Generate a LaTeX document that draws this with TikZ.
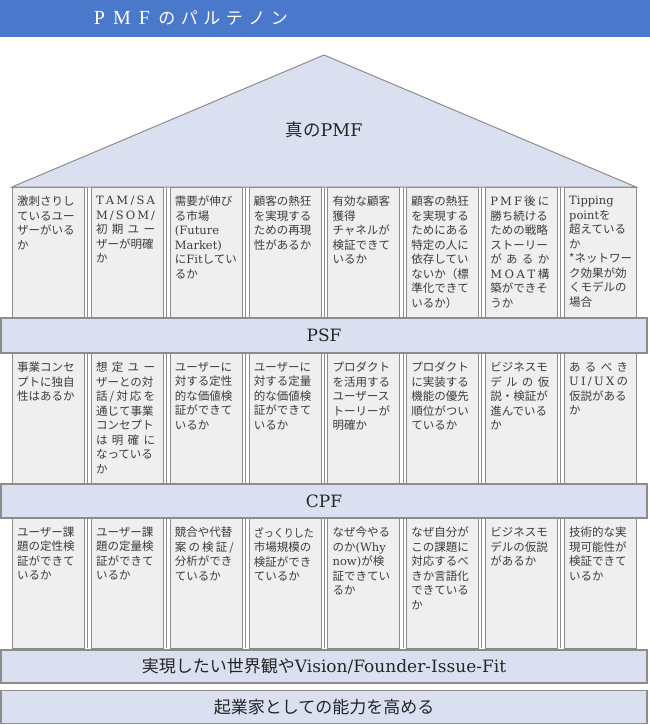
\documentclass[tikz,border=0pt]{standalone}
\usepackage{fontspec}
\usepackage{graphicx}
\setmainfont{Noto Sans CJK JP}
\newfontfamily\jp{Noto Sans CJK JP}
\newfontfamily\lat{DejaVu Serif}
\newfontfamily\tlat{Liberation Serif}
\definecolor{hdr}{RGB}{74,120,203}
\definecolor{bandc}{RGB}{218,224,240}
\definecolor{colf}{RGB}{239,239,239}
\definecolor{bord}{RGB}{140,140,140}
\definecolor{txt}{RGB}{60,60,60}
\newlength\sjw \setlength\sjw{59pt}
\def\sj#1{\makebox[\sjw][s]{\sjfirst#1\relax}}
\def\sjfirst#1{#1\sjloop}
\def\sjloop#1{\ifx\relax#1\else\hfil#1\expandafter\sjloop\fi}
\newcommand\tc[1]{\makebox[22.5pt][c]{#1}}
\newcommand\pillar[5]{%
  \pgfmathsetmacro\pl{12+78.85*#2}%
  \node[colbox, minimum height={#4-#3}, anchor=north west] (#1) at (\pl,#3) {};%
  \node[coltext, anchor=north west] (#1t) at ([shift={(5,9)}]#1.north west) {#5};%
}
\begin{document}
\begin{tikzpicture}[x=1pt,y=-1pt,
  colbox/.style={draw=bord, fill=colf, line width=0.8pt, minimum width=72pt, inner sep=0pt},
  coltext/.style={text width=62pt, align=left, inner sep=0pt, font=\fontsize{11.5}{14.5}\selectfont, text=txt},
  bandbox/.style={draw=bord, fill=bandc, line width=1.4pt, minimum width=646pt, inner sep=0pt, font=\fontsize{17}{20}\selectfont, text=black!85},
  roof/.style={draw=bord, fill=bandc, line width=1pt},
  sepline/.style={draw=bord, line width=0.6pt},
  bigtxt/.style={font=\fontsize{17.5}{20}\selectfont, text=black!85, inner sep=0pt}]
\useasboundingbox (0,0) rectangle (650,725);
\fill[white] (0,0) rectangle (650,725);
% header
\node[fill=hdr, minimum width=650pt, minimum height=37pt, anchor=north west, inner sep=0pt] (hdr) at (0,0) {};
\node[anchor=west, text=white, inner sep=0pt, font=\fontsize{17}{20}\selectfont] (title) at (88,18.5)
  {\tc{\tlat\fontsize{20}{20}\selectfont P}\tc{\tlat\fontsize{20}{20}\selectfont M}\tc{\tlat\fontsize{20}{20}\selectfont F}\tc{の}\tc{パ}\tc{ル}\tc{テ}\tc{ノ}\tc{ン}};
% roof
\coordinate (apex) at (324,55);
\coordinate (bl) at (12,187);
\coordinate (br) at (636,187);
\draw[roof] (bl) -- (apex) -- (br) -- cycle;
\node[bigtxt] (pmf) at (324,130) {真の{\lat PMF}};
% separators
\foreach \t/\b in {187/318,353/484,518/648}{
  \foreach \i in {1,...,7}{
    \draw[sepline] ({12+78.85*\i-3.4},\t) -- ({12+78.85*\i-3.4},\b);
  }
}
% row 1
\pillar{a1}{0}{187}{318}{激刺さりし\\ているユー\\ザーがいる\\か}
\pillar{a2}{1}{187}{318}{\makebox[\sjw][s]{\lat T\hfil A\hfil M\hfil /\hfil S\hfil A}\\\makebox[\sjw][s]{\lat M\hfil /\hfil S\hfil O\hfil M\hfil /}\\\sj{初期ユー}\\ザーが明確\\か}
\pillar{a3}{2}{187}{318}{需要が伸び\\る市場\\{\lat (Future}\\{\lat Market)}\\に{\lat Fit}してい\\るか}
\pillar{a4}{3}{187}{318}{顧客の熱狂\\を実現する\\ための再現\\性があるか}
\pillar{a5}{4}{187}{318}{有効な顧客\\獲得\\チャネルが\\検証できて\\いるか}
\pillar{a6}{5}{187}{318}{顧客の熱狂\\を実現する\\ためにある\\特定の人に\\依存してい\\ないか（標\\準化できて\\いるか）}
\pillar{a7}{6}{187}{318}{\makebox[\sjw][s]{\lat P\hfil M\hfil F\hfil\jp 後\hfil に}\\勝ち続ける\\ための戦略\\ストーリー\\\sj{があるか}\\\makebox[\sjw][s]{\lat M\hfil O\hfil A\hfil T\hfil\jp 構}\\築ができそ\\うか}
\pillar{a8}{7}{187}{318}{{\lat Tipping}\\{\lat point}を\\超えている\\か\\{*}ネットワー\\ク効果が効\\くモデルの\\場合}
% PSF
\node[bandbox, minimum height=35pt] (psf) at (324,335.5) {{\lat PSF}};
% row 2
\pillar{b1}{0}{353}{484}{事業コンセ\\プトに独自\\性はあるか}
\pillar{b2}{1}{353}{484}{\sj{想定ユー}\\ザーとの対\\\sj{話/対応を}\\通じて事業\\コンセプト\\\sj{は明確に}\\なっている\\か}
\pillar{b3}{2}{353}{484}{ユーザーに\\対する定性\\的な価値検\\証ができて\\いるか}
\pillar{b4}{3}{353}{484}{ユーザーに\\対する定量\\的な価値検\\証ができて\\いるか}
\pillar{b5}{4}{353}{484}{プロダクト\\を活用する\\ユーザース\\トーリーが\\明確か}
\pillar{b6}{5}{353}{484}{プロダクト\\に実装する\\機能の優先\\順位がつい\\ているか}
\pillar{b7}{6}{353}{484}{ビジネスモ\\\sj{デルの仮}\\説・検証が\\進んでいる\\か}
\pillar{b8}{7}{353}{484}{\sj{あるべき}\\\makebox[\sjw][s]{\lat U\hfil I\hfil /\hfil U\hfil X\hfil\jp の}\\仮説がある\\か}
% CPF
\node[bandbox, minimum height=34pt] (cpf) at (324,501) {{\lat CPF}};
% row 3
\pillar{c1}{0}{518}{648}{ユーザー課\\題の定性検\\証ができて\\いるか}
\pillar{c2}{1}{518}{648}{ユーザー課\\題の定量検\\証ができて\\いるか}
\pillar{c3}{2}{518}{648}{競合や代替\\\sj{案の検証/}\\分析ができ\\ているか}
\pillar{c4}{3}{518}{648}{\scalebox{0.87}[1]{ざっくりした}\\市場規模の\\検証ができ\\ているか}
\pillar{c5}{4}{518}{648}{なぜ今やる\\のか{\lat (Why}\\{\lat now)}が検\\証できてい\\るか}
\pillar{c6}{5}{518}{648}{なぜ自分が\\この課題に\\対応するべ\\きか言語化\\できている\\か}
\pillar{c7}{6}{518}{648}{ビジネスモ\\デルの仮説\\があるか}
\pillar{c8}{7}{518}{648}{技術的な実\\現可能性が\\検証できて\\いるか}
% base bands
\node[bandbox, minimum height=33pt] (vision) at (324,666.5) {実現したい世界観や{\lat Vision/Founder-Issue-Fit}};
\node[bandbox, minimum height=33pt] (found) at (324,706.8) {起業家としての能力を高める};
\end{tikzpicture}
\end{document}
